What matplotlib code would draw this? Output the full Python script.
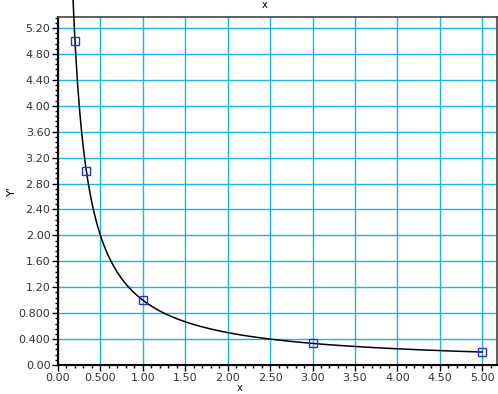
import matplotlib.pyplot as plt
import numpy as np
from matplotlib.ticker import MultipleLocator, FuncFormatter

# data points
px = [0.2, 0.3333, 1.0, 3.0, 5.0]
py = [5.0, 3.0, 1.0, 0.3333, 0.2]

# fitted curve y = 1/x
cx = np.linspace(0.17, 5.0, 400)
cy = 1.0 / cx


def fmt(v, pos):
    if abs(v) < 1e-9:
        return "0.00"
    if abs(v) < 1:
        return "%.3f" % v
    return "%.2f" % v


fig = plt.figure(figsize=(4.98, 3.94), dpi=100)
ax = fig.add_axes([0.1165, 0.0736, 0.8815, 0.8834])

ax.plot(cx, cy, color="black", lw=1.1, clip_on=False, zorder=3)
ax.plot(px, py, ls="none", marker="s", ms=6, mfc="none", mec="#2233dd", mew=1.0, zorder=4)

ax.set_xlim(0, 5.175)
ax.set_ylim(0, 5.37)

ax.xaxis.set_major_locator(MultipleLocator(0.5))
ax.xaxis.set_minor_locator(MultipleLocator(0.1))
ax.yaxis.set_major_locator(MultipleLocator(0.4))
ax.yaxis.set_minor_locator(MultipleLocator(0.08))
ax.xaxis.set_major_formatter(FuncFormatter(fmt))
ax.yaxis.set_major_formatter(FuncFormatter(fmt))

ax.grid(True, which="major", color="#18b6e6", lw=1.0)
ax.set_axisbelow(True)

ax.tick_params(axis="both", which="major", direction="out", length=4, width=1, labelsize=8, colors="black", pad=1.5)
ax.tick_params(axis="both", which="minor", direction="out", length=2, width=1)
for lbl in ax.get_xticklabels() + ax.get_yticklabels():
    lbl.set_color("#333333")

for s in ["left", "bottom"]:
    ax.spines[s].set_linewidth(1.5)
    ax.spines[s].set_color("black")
for s in ["top", "right"]:
    ax.spines[s].set_linewidth(1.2)
    ax.spines[s].set_color("#444444")

ax.set_ylabel("Y'", fontsize=8, labelpad=1)
fig.text(0.482, 0.002, "x", fontsize=7, ha="center", va="bottom")
fig.text(0.532, 0.999, "x", fontsize=7, ha="center", va="top")

fig.savefig("out.png", dpi=100)
